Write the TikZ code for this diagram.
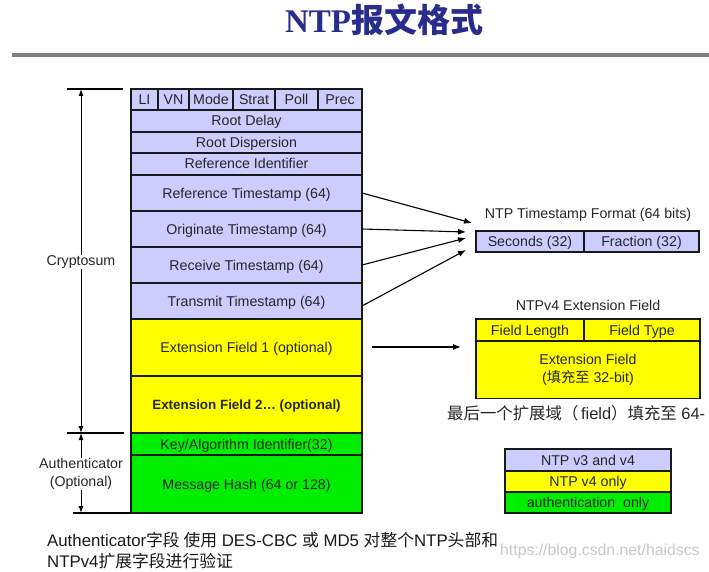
\documentclass[tikz,border=0pt]{standalone}
\usepackage{fontspec}
\setmainfont{Liberation Sans}
\newfontfamily\cjk{Noto Sans CJK SC}
\newfontfamily\tserif{Liberation Serif}
\usetikzlibrary{arrows.meta}
\definecolor{lav}{RGB}{204,204,255}
\definecolor{yel}{RGB}{255,255,0}
\definecolor{grn}{RGB}{0,238,0}
\definecolor{ttl}{RGB}{40,44,140}
\definecolor{edge}{RGB}{25,25,25}
\definecolor{rule}{RGB}{128,128,128}
\definecolor{wmark}{RGB}{200,200,200}
\begin{document}
\begin{tikzpicture}[x=1pt,y=-1pt,
  sz/.style args={#1x#2}{minimum width=#1pt,minimum height=#2pt},
  fbase/.style={draw=edge,line width=1.2pt,inner sep=0pt,outer sep=0pt,align=center,
    font=\fontsize{14.2}{16}\selectfont,text=black!85},
  fld/.style={fbase,text height=10pt,text depth=0pt},
  lbox/.style={fld,fill=lav},
  ybox/.style={fld,fill=yel},
  gbox/.style={fld,fill=grn},
  lbl/.style={inner sep=1pt,align=center,font=\fontsize{14.2}{16.5}\selectfont,text=black!85},
  arr/.style={line width=1.1pt,-{Latex[length=8pt,width=6pt]}},
  dim/.style={line width=1pt,{Latex[length=7pt,width=5pt]}-{Latex[length=7pt,width=5pt]}},
  tick/.style={line width=1.2pt}
]
\useasboundingbox (0,0) rectangle (709,572);

% title
\node[font=\fontsize{33}{35}\selectfont\bfseries,text=ttl] (title) at (384,20)
  {{\tserif NTP}{\cjk 报文格式}};
\coordinate (r1) at (12,55);
\coordinate (r2) at (709,55);
\draw[rule,line width=3.5pt] (r1) -- (r2);

% header row
\node[lbox,sz=27x21] (li) at (144.5,99.5) {LI};
\node[lbox,sz=31x21] (vn) at (173.5,99.5) {VN};
\node[lbox,sz=44x21] (mode) at (211,99.5) {Mode};
\node[lbox,sz=42x21] (strat) at (254,99.5) {Strat};
\node[lbox,sz=43x21] (poll) at (296.5,99.5) {Poll};
\node[lbox,sz=44x21] (prec) at (340,99.5) {Prec};
% rows
\node[lbox,sz=231x22] (rd) at (246.5,121) {Root Delay};
\node[lbox,sz=231x21] (rdisp) at (246.5,142.5) {Root Dispersion};
\node[lbox,sz=231x22] (rid) at (246.5,164) {Reference Identifier};
\node[lbox,sz=231x36] (rts) at (246.5,193) {Reference Timestamp (64)};
\node[lbox,sz=231x36] (ots) at (246.5,229) {Originate Timestamp (64)};
\node[lbox,sz=231x36] (rcts) at (246.5,265) {Receive Timestamp (64)};
\node[lbox,sz=231x36] (tts) at (246.5,301) {Transmit Timestamp (64)};
\node[ybox,sz=231x57] (ext1) at (246.5,347.5) {Extension Field 1 (optional)};
\node[ybox,sz=231x57,font=\fontsize{13.4}{15}\selectfont\bfseries] (ext2) at (246.5,404.5) {Extension Field 2\dots\ (optional)};
\node[gbox,sz=231x22] (key) at (246.5,444) {Key/Algorithm Identifier(32)};
\node[gbox,sz=231x58] (hash) at (246.5,484) {Message Hash (64 or 128)};

% dimension lines on the left
\coordinate (c1a) at (67,89);
\coordinate (c1b) at (123,89);
\coordinate (c2a) at (67,433);
\coordinate (c2b) at (124,433);
\coordinate (c3a) at (73,513);
\coordinate (ctop) at (81,89);
\coordinate (cmid) at (81,433);
\coordinate (cbot) at (81,513);
\draw[tick] (c1a) -- (c1b);
\draw[tick] (c2a) -- (c2b);
\draw[tick] (c3a) -- (hash.south west);
\draw[dim] (ctop) -- (cmid);
\draw[dim] (cmid) -- (cbot);
\node[lbl,fill=white] (crypto) at (81,262) {Cryptosum};
\node[lbl,fill=white,font=\fontsize{14.2}{17.5}\selectfont] (auth) at (81,474) {Authenticator\\(Optional)};

% timestamp format
\node[lbl] (tsft) at (588,215) {NTP Timestamp Format (64 bits)};
\node[lbox,sz=108x21] (sec) at (530,241.5) {Seconds (32)};
\node[lbox,sz=115x21] (frac) at (641.5,241.5) {Fraction (32)};
\coordinate (t1) at (472,223);
\coordinate (t2) at (466,232);
\coordinate (t3) at (466,238);
\coordinate (t4) at (466,250);
\draw[arr] (rts.east) -- (t1);
\draw[arr] (ots.east) -- (t2);
\draw[arr] (rcts.east) -- (t3);
\draw[arr] ([yshift=-5pt]tts.east) -- (t4);

% extension field
\node[lbl] (eft) at (588,305) {NTPv4 Extension Field};
\node[ybox,sz=108x22] (flen) at (530,330) {Field Length};
\node[ybox,sz=116x22] (ftyp) at (642,330) {Field Type};
\node[fbase,fill=yel,sz=224x57,font=\fontsize{14.2}{17.5}\selectfont] (efb) at (588,370) {Extension Field\\({\cjk 填充至} 32-bit)};
\coordinate (e1) at (372,347);
\coordinate (e2) at (461,347);
\draw[arr] (e1) -- (e2);
\node[anchor=west,inner sep=0pt,font=\fontsize{16.4}{18}\selectfont,text=black!85] (note) at (447,413)
  {{\cjk 最后一个扩展域（}\,field{\cjk ）填充至} 64-};

% legend
\node[lbox,sz=166x22] (lg1) at (588,460) {NTP v3 and v4};
\node[ybox,sz=166x21] (lg2) at (588,481.5) {NTP v4 only};
\node[gbox,sz=166x21] (lg3) at (588,502.5) {authentication\ \ only};

% bottom text
\node[anchor=west,inner sep=0pt,font=\fontsize{16.8}{18}\selectfont,text=black!90] (b1) at (47,540)
  {Authenticator{\cjk 字段 使用} DES-CBC {\cjk 或} MD5 {\cjk 对整个}NTP{\cjk 头部和}};
\node[anchor=west,inner sep=0pt,font=\fontsize{16.8}{18}\selectfont,text=black!90] (b2) at (47,561)
  {NTPv4{\cjk 扩展字段进行验证}};
\node[anchor=west,inner sep=0pt,font=\fontsize{15.8}{17}\selectfont,text=wmark] (wm) at (500,551)
  {https://blog.csdn.net/haidscs};
\end{tikzpicture}
\end{document}
